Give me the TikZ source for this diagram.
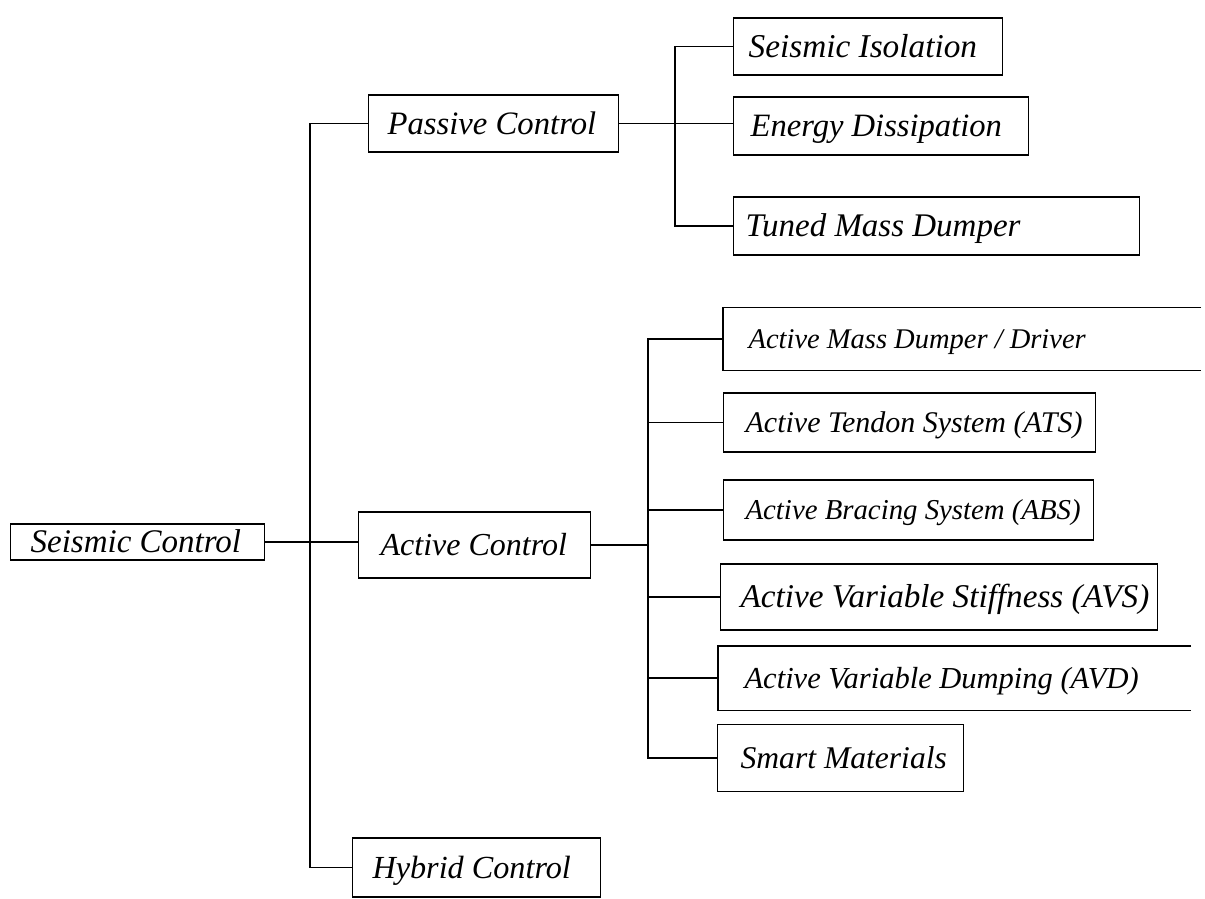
\documentclass[tikz,border=0pt]{standalone}
\usepackage{fontspec}
\setmainfont{Liberation Serif}
\begin{document}
\begin{tikzpicture}[x=1pt,y=-1pt,
  line width=1.2pt,
  frame/.style={draw, anchor=west, inner sep=0pt},
  openframe/.style={draw=none, anchor=west, inner sep=0pt},
  txt/.style={anchor=base west, inner sep=0pt, yshift=-0.33*#1pt,
    font=\fontsize{#1}{#1}\selectfont\itshape}]
\useasboundingbox (0,0) rectangle (1205,899);
% frames
\node[frame, minimum width=254pt, minimum height=36pt] (sc) at (10,542) {};
\node[frame, minimum width=250pt, minimum height=57pt] (pc) at (368,123.5) {};
\node[frame, minimum width=232pt, minimum height=66pt] (ac) at (358,545) {};
\node[frame, minimum width=248pt, minimum height=59pt] (hc) at (352,867.5) {};
\node[frame, minimum width=269pt, minimum height=57pt] (si) at (733,46.5) {};
\node[frame, minimum width=295pt, minimum height=58pt] (ed) at (733,126) {};
\node[frame, minimum width=406pt, minimum height=58pt] (tm) at (733,226) {};
\node[openframe, minimum width=477pt, minimum height=62pt] (amd) at (723,339) {};
\node[frame, minimum width=372pt, minimum height=59pt] (ats) at (723,422.5) {};
\node[frame, minimum width=370pt, minimum height=60pt] (abs) at (723,510) {};
\node[frame, minimum width=437pt, minimum height=66pt] (avs) at (720,597) {};
\node[openframe, minimum width=472pt, minimum height=63pt] (avd) at (718,678) {};
\node[frame, minimum width=246pt, minimum height=67pt] (sm) at (717,758) {};
% open frames (right edge missing)
\draw (amd.north east) -- (amd.north west) -- (amd.south west) -- (amd.south east);
\draw (avd.north east) -- (avd.north west) -- (avd.south west) -- (avd.south east);
% texts
\node[txt=33] (sct) at ([xshift=20pt]sc.west) {Seismic Control};
\node[txt=32.7] (pct) at ([xshift=19pt]pc.west) {Passive Control};
\node[txt=32] (act) at ([xshift=22pt]ac.west) {Active Control};
\node[txt=32.2] (hct) at ([xshift=20pt]hc.west) {Hybrid Control};
\node[txt=33.3] (sit) at ([xshift=15pt]si.west) {Seismic Isolation};
\node[txt=32.6] (edt) at ([xshift=17pt]ed.west) {Energy Dissipation};
\node[txt=33] (tmt) at ([xshift=12pt]tm.west) {Tuned Mass Dumper};
\node[txt=28.5] (amdt) at ([xshift=25pt]amd.west) {Active Mass Dumper / Driver};
\node[txt=30] (atst) at ([xshift=22pt]ats.west) {Active Tendon System (ATS)};
\node[txt=28.8] (abst) at ([xshift=22pt]abs.west) {Active Bracing System (ABS)};
\node[txt=33.2] (avst) at ([xshift=20pt]avs.west) {Active Variable Stiffness (AVS)};
\node[txt=30.5] (avdt) at ([xshift=26pt]avd.west) {Active Variable Dumping (AVD)};
\node[txt=31.6] (smt) at ([xshift=23pt]sm.west) {Smart Materials};
% trunk coordinates
\coordinate (t0) at (310,0);
\coordinate (tp) at (675,0);
\coordinate (ta) at (648,0);
% main tree
\draw (sc.east) -- (sc.east -| ac.west);
\draw (pc.west) -- (pc.west -| t0) -- (hc.west -| t0) -- (hc.west);
% passive subtree
\draw (pc.east) -- (pc.east -| ed.west);
\draw (si.west) -- (si.west -| tp) -- (tm.west -| tp) -- (tm.west);
% active subtree
\draw (ac.east) -- (ac.east -| ta);
\draw (amd.west) -- (amd.west -| ta) -- (sm.west -| ta) -- (sm.west);
\draw (ats.west) -- (ats.west -| ta);
\draw (abs.west) -- (abs.west -| ta);
\draw (avs.west) -- (avs.west -| ta);
\draw (avd.west) -- (avd.west -| ta);
\end{tikzpicture}
\end{document}
